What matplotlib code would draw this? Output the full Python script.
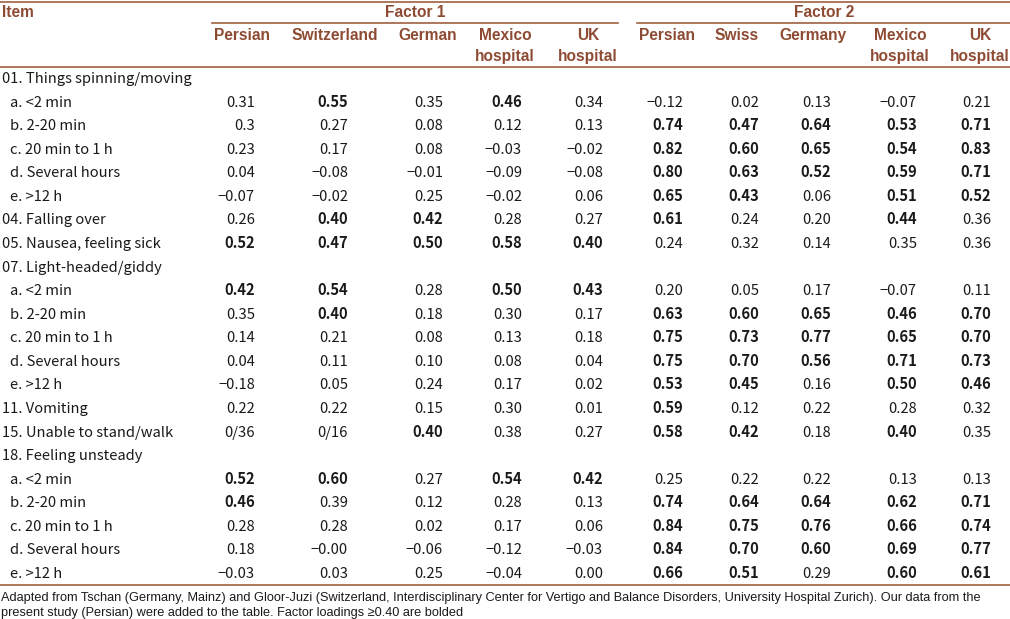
import matplotlib
matplotlib.use("Agg")
import matplotlib.pyplot as plt
from matplotlib.lines import Line2D

W, H = 1010, 619
BROWN = "#8E4B33"
LINE = "#A0603F"
BODY_FONT = ["Noto Sans CJK JP", "DejaVu Sans"]
HEAD_FONT = ["Liberation Sans", "DejaVu Sans"]

factor_titles = ["Factor 1", "Factor 2"]
col_headers = ["Persian", "Switzerland", "German", "Mexico\nhospital", "UK\nhospital",
               "Persian", "Swiss", "Germany", "Mexico\nhospital", "UK\nhospital"]

row_labels = [
    "01. Things spinning/moving", "a. <2 min", "b. 2-20 min", "c. 20 min to 1 h",
    "d. Several hours", "e. >12 h", "04. Falling over", "05. Nausea, feeling sick",
    "07. Light-headed/giddy", "a. <2 min", "b. 2-20 min", "c. 20 min to 1 h",
    "d. Several hours", "e. >12 h", "11. Vomiting", "15. Unable to stand/walk",
    "18. Feeling unsteady", "a. <2 min", "b. 2-20 min", "c. 20 min to 1 h",
    "d. Several hours", "e. >12 h",
]

factor1 = [
    None,
    ["0.31", "0.55", "0.35", "0.46", "0.34"],
    ["0.3", "0.27", "0.08", "0.12", "0.13"],
    ["0.23", "0.17", "0.08", "−0.03", "−0.02"],
    ["0.04", "−0.08", "−0.01", "−0.09", "−0.08"],
    ["−0.07", "−0.02", "0.25", "−0.02", "0.06"],
    ["0.26", "0.40", "0.42", "0.28", "0.27"],
    ["0.52", "0.47", "0.50", "0.58", "0.40"],
    None,
    ["0.42", "0.54", "0.28", "0.50", "0.43"],
    ["0.35", "0.40", "0.18", "0.30", "0.17"],
    ["0.14", "0.21", "0.08", "0.13", "0.18"],
    ["0.04", "0.11", "0.10", "0.08", "0.04"],
    ["−0.18", "0.05", "0.24", "0.17", "0.02"],
    ["0.22", "0.22", "0.15", "0.30", "0.01"],
    ["0/36", "0/16", "0.40", "0.38", "0.27"],
    None,
    ["0.52", "0.60", "0.27", "0.54", "0.42"],
    ["0.46", "0.39", "0.12", "0.28", "0.13"],
    ["0.28", "0.28", "0.02", "0.17", "0.06"],
    ["0.18", "−0.00", "−0.06", "−0.12", "−0.03"],
    ["−0.03", "0.03", "0.25", "−0.04", "0.00"],
]

factor2 = [
    None,
    ["−0.12", "0.02", "0.13", "−0.07", "0.21"],
    ["0.74", "0.47", "0.64", "0.53", "0.71"],
    ["0.82", "0.60", "0.65", "0.54", "0.83"],
    ["0.80", "0.63", "0.52", "0.59", "0.71"],
    ["0.65", "0.43", "0.06", "0.51", "0.52"],
    ["0.61", "0.24", "0.20", "0.44", "0.36"],
    ["0.24", "0.32", "0.14", "0.35", "0.36"],
    None,
    ["0.20", "0.05", "0.17", "−0.07", "0.11"],
    ["0.63", "0.60", "0.65", "0.46", "0.70"],
    ["0.75", "0.73", "0.77", "0.65", "0.70"],
    ["0.75", "0.70", "0.56", "0.71", "0.73"],
    ["0.53", "0.45", "0.16", "0.50", "0.46"],
    ["0.59", "0.12", "0.22", "0.28", "0.32"],
    ["0.58", "0.42", "0.18", "0.40", "0.35"],
    None,
    ["0.25", "0.22", "0.22", "0.13", "0.13"],
    ["0.74", "0.64", "0.64", "0.62", "0.71"],
    ["0.84", "0.75", "0.76", "0.66", "0.74"],
    ["0.84", "0.70", "0.60", "0.69", "0.77"],
    ["0.66", "0.51", "0.29", "0.60", "0.61"],
]

footnote_lines = [
    "Adapted from Tschan (Germany, Mainz) and Gloor-Juzi (Switzerland, Interdisciplinary Center for Vertigo and Balance Disorders, University Hospital Zurich). Our data from the",
    "present study (Persian) were added to the table. Factor loadings ≥0.40 are bolded",
]

fig = plt.figure(figsize=(W / 100, H / 100), dpi=100)
fig.patch.set_facecolor("white")


def X(px):
    return px / W


def Y(py):
    return 1 - py / H


def hline(x0, x1, y, lw=1.2):
    fig.add_artist(Line2D([X(x0), X(x1)], [Y(y), Y(y)], color=LINE, lw=lw,
                          transform=fig.transFigure))


def is_bold(s):
    try:
        return float(s.replace("−", "-")) >= 0.40
    except ValueError:
        return False


# rules
hline(0, W, 1.5)
hline(212, 618, 22.5)
hline(637, W, 22.5)
hline(0, W, 66.5)
hline(0, W, 585)

# headers
hs = 11.2
fig.text(X(2), Y(17), "Item", ha="left", va="baseline", fontsize=hs, fontweight="bold",
         color=BROWN, family=HEAD_FONT)
fig.text(X(415), Y(17), factor_titles[0], ha="center", va="baseline", fontsize=hs,
         fontweight="bold", color=BROWN, family=HEAD_FONT)
fig.text(X(824), Y(17), factor_titles[1], ha="center", va="baseline", fontsize=hs,
         fontweight="bold", color=BROWN, family=HEAD_FONT)

head_x = [242, 335, 428, 505, 588, 667, 737, 813, 900, 980]
for cx, h in zip(head_x, col_headers):
    for j, part in enumerate(h.split("\n")):
        fig.text(X(cx), Y(40 + j * 21), part, ha="center", va="baseline", fontsize=hs,
                 fontweight="bold", color=BROWN, family=HEAD_FONT)

# body
bs = 10.6
val_right = [255, 348, 443, 522, 603, 683, 759, 831, 917, 991]
y0, dy = 78, 23.57
for i, label in enumerate(row_labels):
    y = y0 + i * dy
    indent = 10 if label[:2] in ("a.", "b.", "c.", "d.", "e.") else 2
    fig.text(X(indent), Y(y + 5), label, ha="left", va="baseline", fontsize=bs,
             color="#1a1a1a", family=BODY_FONT)
    if factor1[i] is not None:
        vals = factor1[i] + factor2[i]
        for rx, v in zip(val_right, vals):
            fig.text(X(rx), Y(y + 5), v, ha="right", va="baseline", fontsize=bs,
                     color="#1a1a1a", family=BODY_FONT,
                     fontweight="bold" if is_bold(v) else "normal")

for j, line in enumerate(footnote_lines):
    fig.text(X(1), Y(598 + j * 15), line, ha="left", va="center", fontsize=9.15,
             color="#1a1a1a", family=["Liberation Sans", "DejaVu Sans"])

fig.savefig("out.png", dpi=100, facecolor="white")
